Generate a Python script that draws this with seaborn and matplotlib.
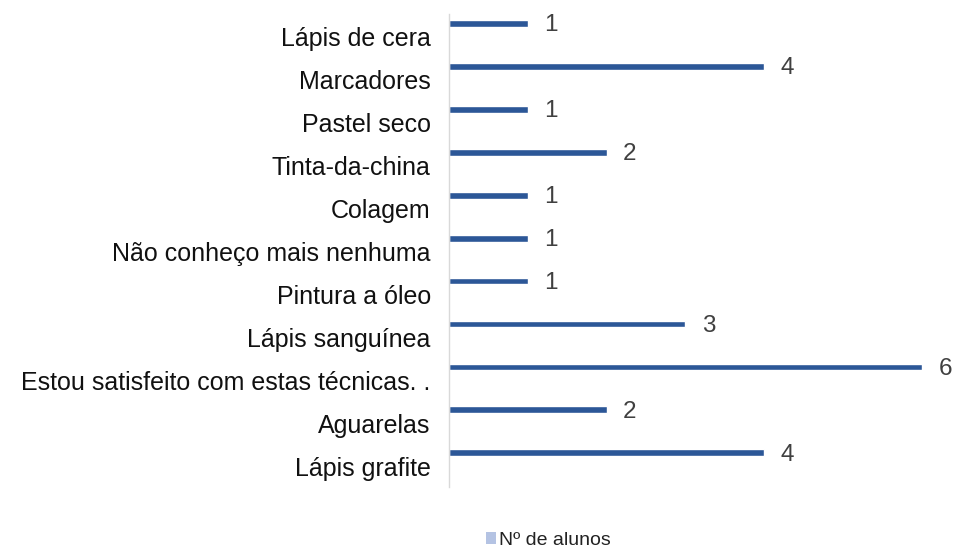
import matplotlib
matplotlib.use("Agg")
import matplotlib.pyplot as plt
import matplotlib.transforms as mtransforms
from matplotlib.patches import Patch
import seaborn as sns
import pandas as pd

categories = ["Lápis de cera", "Marcadores", "Pastel seco", "Tinta-da-china", "Colagem",
              "Não conheço mais nenhuma", "Pintura a óleo", "Lápis sanguínea",
              "Estou satisfeito com estas técnicas. .", "Aguarelas", "Lápis grafite"]
alunos = [1, 4, 1, 2, 1, 1, 1, 3, 6, 2, 4]
series_name = "Nº de alunos"

df = pd.DataFrame({"tecnica": categories, "alunos": alunos})

sns.set_style("white")
plt.rcParams['font.family'] = ['Liberation Sans', 'DejaVu Sans']

fig = plt.figure(figsize=(9.57, 5.47), dpi=100)
ax = fig.add_axes([0.469, 0.110, 0.4945, 0.864])

sns.barplot(data=df, y="tecnica", x="alunos", orient="h", color="#2c5797",
            saturation=1, width=0.16, ax=ax)

# value labels
for i, v in enumerate(alunos):
    ax.annotate(str(v), (v, i), xytext=(12, -1.5), textcoords="offset points",
                va="center", ha="left", fontsize=17.5, color="#404040")

ax.set_xlim(0, 6)
ax.set_ylim(10.79, -0.21)
ax.set_xlabel("")
ax.set_ylabel("")
ax.set_xticks([])
ax.tick_params(axis="y", length=0, pad=13, labelsize=18, labelcolor="#111111")

# shift category labels down to band centre
offset = mtransforms.ScaledTranslation(0, -13.5 / 100, fig.dpi_scale_trans)
for lab in ax.get_yticklabels():
    lab.set_transform(lab.get_transform() + offset)

for side in ["top", "right", "bottom"]:
    ax.spines[side].set_visible(False)
ax.spines["left"].set_color("#d9d9d9")
ax.spines["left"].set_linewidth(1)

handle = Patch(facecolor="#b4c3e3", edgecolor="none")
fig.legend([handle], [series_name], loc="lower center", bbox_to_anchor=(0.573, -0.035),
           frameon=False, fontsize=14, handlelength=0.5, handleheight=0.55,
           handletextpad=0.15, labelcolor="#222222")

fig.savefig("out.png", dpi=100)
